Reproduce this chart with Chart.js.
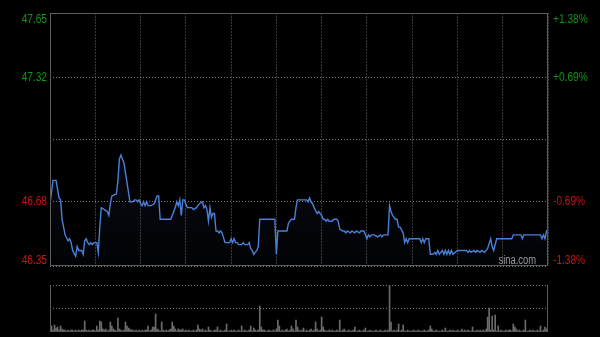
<!DOCTYPE html>
<html>
<head>
<meta charset="utf-8">
<script src="https://cdn.jsdelivr.net/npm/chart.js@4.4.1/dist/chart.umd.min.js"></script>
<style>
  html, body { margin: 0; padding: 0; background: #000; }
  #wrap { position: relative; width: 600px; height: 337px; background: #000; overflow: hidden; }
  #priceCanvas { position: absolute; left: 0; top: 0; }
  #volCanvas { position: absolute; left: 0; top: 280px; }
</style>
</head>
<body>
<div id="wrap">
  <canvas id="priceCanvas" width="600" height="280"></canvas>
  <canvas id="volCanvas" width="600" height="57"></canvas>
</div>
<script>
const prevClose = 47.00;
const totalMinutes = 330;
const priceTicks = [46.35, 46.68, 47.00, 47.32, 47.65];
const priceLabels = ['46.35', '46.68', '', '47.32', '47.65'];
const pctLabels = ['-1.38%', '-0.69%', '', '+0.69%', '+1.38%'];

// minute of the session -> price
const minutes = [
    0, 2, 4, 6, 7, 8, 10, 12, 13, 14, 15, 17, 18, 19, 21, 22, 23, 24, 25, 26,
    27, 28, 29, 31, 32, 33, 34, 36, 38, 39, 40, 41, 44, 45, 46, 47, 48, 49, 50, 51,
    53, 55, 56, 57, 58, 59, 60, 61, 62, 63, 64, 65, 67, 69, 70, 71, 72, 73, 80, 81,
    82, 83, 84, 85, 86, 87, 88, 89, 90, 91, 94, 95, 97, 98, 99, 101, 102, 103, 104, 105,
    106, 107, 108, 109, 110, 111, 112, 113, 114, 116, 119, 120, 121, 122, 123, 124, 125, 127, 128, 129,
    131, 132, 133, 134, 135, 136, 137, 138, 139, 149, 150, 151, 157, 158, 160, 162, 163, 164, 170, 171,
    172, 173, 174, 175, 177, 178, 179, 180, 181, 182, 183, 184, 185, 187, 188, 190, 191, 192, 194, 195,
    196, 197, 199, 200, 202, 203, 205, 206, 208, 209, 210, 211, 212, 213, 215, 217, 219, 220, 221, 224,
    225, 226, 227, 229, 230, 231, 232, 234, 235, 236, 237, 238, 245, 246, 247, 248, 249, 251, 252, 254,
    255, 256, 257, 258, 260, 261, 262, 263, 264, 265, 266, 267, 270, 276, 277, 278, 279, 281, 282, 283,
    285, 286, 288, 289, 290, 292, 293, 294, 296, 306, 307, 312, 313, 314, 325, 326, 327, 328, 329, 330
];
const prices = [
    46.67, 46.79, 46.79, 46.70, 46.69, 46.59, 46.51, 46.48, 46.49, 46.47, 46.43, 46.40, 46.45, 46.43, 46.43, 46.41, 46.48, 46.49, 46.47, 46.46,
    46.47, 46.46, 46.47, 46.47, 46.42, 46.55, 46.65, 46.64, 46.63, 46.61, 46.67, 46.71, 46.72, 46.79, 46.90, 46.92, 46.90, 46.88, 46.83, 46.78,
    46.68, 46.68, 46.69, 46.69, 46.68, 46.69, 46.67, 46.66, 46.68, 46.66, 46.68, 46.66, 46.66, 46.67, 46.69, 46.71, 46.71, 46.59, 46.59, 46.61,
    46.63, 46.65, 46.68, 46.66, 46.69, 46.61, 46.69, 46.69, 46.67, 46.65, 46.65, 46.64, 46.65, 46.66, 46.67, 46.68, 46.65, 46.66, 46.64, 46.58,
    46.65, 46.60, 46.62, 46.62, 46.53, 46.53, 46.52, 46.53, 46.52, 46.47, 46.47, 46.49, 46.47, 46.49, 46.47, 46.47, 46.46, 46.46, 46.47, 46.46,
    46.46, 46.47, 46.44, 46.43, 46.41, 46.42, 46.43, 46.45, 46.59, 46.59, 46.41, 46.53, 46.53, 46.57, 46.59, 46.59, 46.65, 46.69, 46.69, 46.68,
    46.70, 46.68, 46.67, 46.65, 46.62, 46.63, 46.62, 46.61, 46.59, 46.59, 46.58, 46.59, 46.58, 46.58, 46.59, 46.59, 46.58, 46.54, 46.53, 46.53,
    46.52, 46.53, 46.52, 46.53, 46.52, 46.53, 46.52, 46.53, 46.53, 46.51, 46.49, 46.51, 46.50, 46.51, 46.51, 46.50, 46.51, 46.50, 46.51, 46.51,
    46.66, 46.63, 46.61, 46.59, 46.59, 46.55, 46.55, 46.52, 46.47, 46.49, 46.47, 46.49, 46.49, 46.47, 46.49, 46.47, 46.49, 46.49, 46.41, 46.41,
    46.42, 46.41, 46.43, 46.41, 46.43, 46.41, 46.43, 46.41, 46.43, 46.41, 46.43, 46.41, 46.43, 46.43, 46.42, 46.43, 46.42, 46.43, 46.42, 46.43,
    46.42, 46.43, 46.42, 46.43, 46.44, 46.49, 46.45, 46.43, 46.49, 46.49, 46.51, 46.51, 46.49, 46.51, 46.51, 46.49, 46.51, 46.49, 46.53, 46.53
];

// volume per minute, minute 0 .. 330
const volumes = [
    13, 6, 2, 7, 4, 5, 2, 6, 3, 2,
    2, 1, 2, 1, 2, 2, 1, 2, 1, 2,
    1, 2, 2, 11, 2, 1, 2, 1, 2, 2,
    1, 6, 2, 11, 10, 3, 2, 3, 1, 2,
    10, 6, 3, 2, 1, 14, 3, 2, 1, 2,
    10, 6, 4, 3, 2, 2, 1, 2, 1, 2,
    1, 2, 1, 2, 2, 6, 1, 2, 5, 5,
    18, 3, 2, 1, 10, 2, 1, 2, 1, 2,
    3, 10, 6, 3, 1, 3, 2, 2, 3, 1,
    2, 1, 2, 1, 1, 2, 1, 2, 7, 3,
    2, 3, 1, 2, 1, 5, 2, 1, 1, 2,
    2, 5, 1, 2, 1, 1, 2, 8, 1, 1,
    2, 1, 2, 1, 1, 2, 1, 6, 1, 2,
    1, 1, 2, 6, 1, 4, 2, 1, 2, 26,
    5, 2, 2, 1, 1, 2, 1, 1, 2, 1,
    3, 12, 6, 1, 2, 1, 2, 3, 1, 2,
    6, 3, 1, 12, 5, 2, 1, 2, 4, 1,
    2, 1, 2, 3, 1, 2, 10, 3, 1, 2,
    15, 5, 2, 1, 1, 2, 1, 2, 1, 1,
    2, 1, 12, 1, 2, 3, 1, 1, 2, 1,
    1, 2, 5, 1, 1, 2, 1, 1, 2, 4,
    1, 1, 2, 1, 1, 1, 2, 1, 1, 2,
    1, 1, 2, 1, 2, 47, 10, 1, 2, 1,
    2, 8, 1, 2, 7, 1, 1, 2, 1, 1,
    1, 2, 1, 1, 2, 1, 1, 1, 2, 1,
    1, 2, 6, 3, 1, 1, 2, 1, 1, 1,
    2, 1, 4, 1, 1, 2, 1, 2, 1, 1,
    2, 1, 1, 3, 1, 2, 1, 2, 1, 1,
    5, 1, 1, 2, 1, 2, 1, 2, 1, 3,
    15, 24, 2, 16, 2, 17, 1, 6, 1, 2,
    1, 1, 2, 1, 2, 2, 1, 8, 5, 3,
    1, 2, 1, 1, 2, 12, 1, 1, 2, 1,
    2, 1, 1, 2, 1, 6, 1, 2, 5, 3,
    2
];
const volMax = 47;

const FONT = '"Liberation Sans", Arial, sans-serif';

// narrow text: squeeze the normal face horizontally
function narrowText(ctx, text, x, y) {
    const w = ctx.measureText(text).width;
    ctx.fillText(text, x, y, w * 0.78);
}

// solid frame around the plot area
const frame = {
    id: 'frame',
    afterDatasetsDraw(chart, args, opts) {
        const a = chart.chartArea;
        const ctx = chart.ctx;
        ctx.save();
        ctx.strokeStyle = '#5c5c5c';
        ctx.lineWidth = 1;
        ctx.beginPath();
        if (opts.box) {
            ctx.rect(a.left + 0.5, a.top + 0.5, a.right - a.left - 1, a.bottom - a.top - 1);
        } else {
            ctx.moveTo(a.left + 0.5, a.top); ctx.lineTo(a.left + 0.5, a.bottom);
            ctx.moveTo(a.right - 0.5, a.top); ctx.lineTo(a.right - 0.5, a.bottom);
        }
        ctx.stroke();
        ctx.restore();
    }
};

// price labels left, percent labels right
const sideLabels = {
    id: 'sideLabels',
    afterDraw(chart) {
        const ctx = chart.ctx;
        const a = chart.chartArea;
        const y = chart.scales.y;
        ctx.save();
        ctx.font = '13px ' + FONT;
        ctx.textBaseline = 'middle';
        priceTicks.forEach((v, i) => {
            let py = y.getPixelForValue(v);
            if (i === 0) py -= 6;
            if (i === priceTicks.length - 1) py += 6;
            ctx.fillStyle = v > prevClose ? '#139313' : '#c81414';
            ctx.textAlign = 'right';
            narrowText(ctx, priceLabels[i], a.left - 3, py);
            ctx.textAlign = 'left';
            narrowText(ctx, pctLabels[i], a.right + 5, py);
        });
        ctx.font = '12px ' + FONT;
        ctx.fillStyle = '#9b9b9b';
        ctx.textAlign = 'right';
        ctx.textBaseline = 'alphabetic';
        narrowText(ctx, 'sina.com', a.right - 12, a.bottom - 2);
        ctx.restore();
    }
};

const pricePoints = minutes.map((m, i) => ({ x: m, y: prices[i] }));

new Chart(document.getElementById('priceCanvas'), {
    type: 'line',
    data: {
        datasets: [{
            data: pricePoints,
            borderColor: '#4a80d8',
            borderWidth: 1.4,
            pointRadius: 0,
            tension: 0,
            fill: 'start',
            backgroundColor: function (c) {
                const a = c.chart.chartArea;
                if (!a) return 'transparent';
                const g = c.chart.ctx.createLinearGradient(0, a.top, 0, a.bottom);
                g.addColorStop(0, 'rgba(60,100,180,0.18)');
                g.addColorStop(1, 'rgba(60,100,180,0.03)');
                return g;
            }
        }]
    },
    options: {
        responsive: false,
        animation: false,
        layout: { padding: { left: 50, right: 52, top: 13, bottom: 14 } },
        plugins: { legend: { display: false }, tooltip: { enabled: false }, frame: { box: true } },
        scales: {
            x: {
                type: 'linear',
                min: 0,
                max: totalMinutes,
                ticks: { display: false, stepSize: 30 },
                grid: { color: '#3a3a3a', drawTicks: false },
                border: { display: false, dash: [2, 1] }
            },
            y: {
                min: 46.35,
                max: 47.65,
                afterBuildTicks: (s) => { s.ticks = priceTicks.map(v => ({ value: v })); },
                ticks: { display: false },
                grid: { color: '#7a7a7a', drawTicks: false },
                border: { display: false, dash: [1, 2] }
            }
        }
    },
    plugins: [frame, sideLabels]
});

new Chart(document.getElementById('volCanvas'), {
    type: 'bar',
    data: {
        datasets: [{
            data: volumes.map((v, i) => ({ x: i, y: v })),
            backgroundColor: '#6c6c6c',
            barThickness: 1
        }]
    },
    options: {
        responsive: false,
        animation: false,
        layout: { padding: { left: 50, right: 52, top: 5, bottom: 5 } },
        plugins: { legend: { display: false }, tooltip: { enabled: false }, frame: { box: false } },
        scales: {
            x: {
                type: 'linear',
                offset: false,
                min: 0,
                max: totalMinutes,
                ticks: { display: false },
                grid: { display: false, offset: false, drawTicks: false },
                border: { display: false }
            },
            y: {
                min: 0,
                max: volMax,
                afterBuildTicks: (s) => { s.ticks = [0, volMax / 2, volMax].map(v => ({ value: v })); },
                ticks: { display: false },
                grid: { color: (c) => c.tick.value === 0 ? 'transparent' : '#7a7a7a', drawTicks: false },
                border: { display: false, dash: [1, 2] }
            }
        }
    },
    plugins: [frame]
});
</script>
</body>
</html>
